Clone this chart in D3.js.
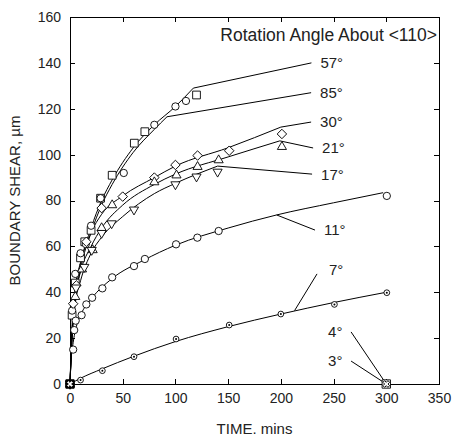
<!DOCTYPE html>
<html lang="en">
<head>
<meta charset="UTF-8">
<title>Boundary shear vs time</title>
<style>
  html, body { margin: 0; padding: 0; background: #fff; }
  svg { display: block; font-family: Arial, "Liberation Sans", sans-serif; }
  .tick-label { font-family: "Liberation Sans Narrow", Arial, "Liberation Sans", sans-serif; font-size: 14px; }
</style>
</head>
<body>
<div id="chart"></div>
<script src="https://d3js.org/d3.v7.min.js"></script>
<script>
// ---- data ----
const xTicks = [0, 50, 100, 150, 200, 250, 300, 350];
const yTicks = [0, 20, 40, 60, 80, 100, 120, 140, 160];

// measured points [time, shear]
const pts57 = [[0,0],[2,30],[5,44],[10,55],[14,62],[20,67],[29,81],[40,91],[61,105],[71,110],[120,126]];
const pts85 = [[0,0],[2,32],[5,48],[10,57],[15,61],[20,69],[29,81],[51,92],[80,113],[100,121],[110,123.4]];
const pts30 = [[0,0],[3,35],[6,43],[15.5,62],[30,76.7],[50,81.7],[80,90],[100,95.5],[121,99.6],[151,101.7],[201,109]];
const pts21 = [[0,0],[5,38],[11.4,50],[21.5,58.4],[30,68],[40,78],[80,88],[101,91],[121,94.7],[141,97.6],[201,103.4]];
const pts17 = [[0,0],[5.7,42],[13.6,51],[20.6,58.4],[30,65.8],[39.5,70],[60.7,76],[100,87],[120,90.4],[140,92.5]];
const pts11 = [[0,0],[3,15],[4,23.5],[5.4,27.6],[11,30],[15.5,34.7],[21,37.6],[30.7,41.7],[40,46.5],[60.7,51.4],[71,54.5],[100.6,60.9],[120.8,63.8],[141,66.7],[300.5,82]];
const pts7  = [[0,0],[10,1.7],[30.7,5.8],[60.7,11.9],[100.6,19.6],[151,25.7],[200,30.5],[250.8,34.7],[300.5,39.8]];
const pts4  = [[0,0],[300,0]];
const pts3  = [[0,0],[300,0]];

// fitted curves [time, shear]
const fit57 = [[0,0],[2,22],[5,38],[10,52],[20,68],[30,80],[40,89],[60,103],[80,113],[100,121],[117,129]];
const fit85 = [[0,0],[2,20],[5,36],[10,50],[20,66],[30,78],[40,87],[60,101],[80,111],[92,116.5]];
const fit30 = [[0,0],[2,26],[5,42],[10,53],[20,66],[30,74],[50,82],[80,90],[100,95],[150,103],[200,112]];
const fit21 = [[0,0],[2,23],[5,38],[10,49],[20,60],[30,68],[50,78],[80,87],[100,91.5],[150,99],[199,106]];
const fit17 = [[0,0],[2,21],[5,35],[10,45],[20,57],[30,64],[50,73],[80,83],[100,87.5],[140,95]];
const fit11 = [[0,0],[1,10],[3,18],[6,25],[10,30],[20,37],[40,46],[70,54],[100,60.5],[150,68],[196,73.7],[250,79],[297,83.4]];
const fit7  = [[0,0],[10,2.5],[30,6.5],[60,12],[100,18.5],[150,25],[200,30.5],[250,35.5],[300,40]];

// labels: text, leader start on curve, leader end
const labelNames = ["57°", "85°", "30°", "21°", "17°", "11°", "7°", "4°", "3°"];
const leaderFrom = [[117,129],[92,116.5],[200,112],[199,106],[140,95],[196,73.7],[213,32],[300,0],[300,0]];
const leaderTo   = [[229,140],[228.7,127],[228.7,114.2],[230.6,102.9],[229.6,91.5],[232.4,67.1],[234.3,48],[266.6,22.7],[266.6,10]];

const title = "Rotation Angle About <110>";
const xTitle = "TIME. mins";
const yTitle = "BOUNDARY SHEAR, µm";

// ---- layout ----
const W = 453, H = 437;
const margin = {top: 17, right: 14, bottom: 53, left: 70};
const width = W - margin.left - margin.right;
const height = H - margin.top - margin.bottom;

const svg = d3.select("#chart").append("svg")
  .attr("width", W).attr("height", H);

const g = svg.append("g").attr("transform", `translate(${margin.left},${margin.top})`);

const x = d3.scaleLinear().domain([0, 350]).range([0, width]);
const y = d3.scaleLinear().domain([0, 160]).range([height, 0]);

// frame + inward ticks on all sides
g.append("rect").attr("width", width).attr("height", height)
  .attr("fill", "none").attr("stroke", "#000").attr("stroke-width", 1)
  .attr("shape-rendering", "crispEdges");

const tl = 5;
function styleAxis(sel) {
  sel.select(".domain").remove();
  sel.selectAll(".tick line").attr("stroke", "#000").attr("shape-rendering", "crispEdges");
  sel.selectAll(".tick text").attr("class", "tick-label").attr("fill", "#222").attr("font-size", null).attr("font-family", null);
}
g.append("g").attr("transform", `translate(0,${height})`)
  .call(d3.axisBottom(x).tickValues(xTicks).tickSizeInner(-tl).tickSizeOuter(0).tickPadding(9))
  .call(styleAxis);
g.append("g")
  .call(d3.axisTop(x).tickValues(xTicks).tickSizeInner(-tl).tickSizeOuter(0).tickFormat(""))
  .call(styleAxis);
g.append("g")
  .call(d3.axisLeft(y).tickValues(yTicks).tickSizeInner(-tl).tickSizeOuter(0).tickPadding(9))
  .call(styleAxis);
g.append("g").attr("transform", `translate(${width},0)`)
  .call(d3.axisRight(y).tickValues(yTicks).tickSizeInner(-tl).tickSizeOuter(0).tickFormat(""))
  .call(styleAxis);

// fitted curves
const line = d3.line().x(d => x(d[0])).y(d => y(d[1])).curve(d3.curveMonotoneX);
[fit57, fit85, fit30, fit21, fit17, fit11, fit7].forEach(f => {
  g.append("path").datum(f).attr("d", line)
    .attr("fill", "none").attr("stroke", "#000").attr("stroke-width", 1);
});

// leader lines + labels
labelNames.forEach((name, i) => {
  const a = leaderFrom[i], b = leaderTo[i];
  g.append("line")
    .attr("x1", x(a[0])).attr("y1", y(a[1]))
    .attr("x2", x(b[0])).attr("y2", y(b[1]))
    .attr("stroke", "#000").attr("stroke-width", 1);
  const left = name === "4°" || name === "3°";
  const up = name === "7°";
  g.append("text")
    .attr("x", x(b[0]) + (left ? -23 : up ? 12 : 9))
    .attr("y", y(b[1]) + (up ? -4 : 0))
    .attr("dy", "0.36em")
    .attr("font-size", 15).attr("fill", "#222")
    .text(name);
});

// markers
const sym = (type, size) => d3.symbol().type(type).size(size);
function drawMarkers(data, type, size, extra) {
  const s = g.append("g");
  s.selectAll("path").data(data).join("path")
    .attr("transform", d => `translate(${x(d[0])},${y(d[1])})` + (extra || ""))
    .attr("d", sym(type, size)())
    .attr("fill", "#fff").attr("stroke", "#000").attr("stroke-width", 0.9);
  return s;
}
drawMarkers(pts57, d3.symbolSquare, 60);
drawMarkers(pts85, d3.symbolCircle, 42);
drawMarkers(pts30, d3.symbolSquare, 45, " rotate(45)");
drawMarkers(pts21, d3.symbolTriangle, 36);
drawMarkers(pts17, d3.symbolTriangle, 36, " rotate(180)");
drawMarkers(pts11, d3.symbolCircle, 42);
drawMarkers(pts7, d3.symbolCircle, 26);
g.append("g").selectAll("circle").data(pts7).join("circle")
  .attr("cx", d => x(d[0])).attr("cy", d => y(d[1])).attr("r", 1).attr("fill", "#000");
// 4° squares: the one at the origin sits under every other series and reads as solid
drawMarkers(pts4, d3.symbolSquare, 70).attr("stroke-width", 1.6)
  .selectAll("path").attr("fill", d => d[0] === 0 ? "#000" : "#fff");
drawMarkers(pts3, d3.symbolCross, 28, " rotate(45)");

// titles
g.append("text").attr("x", width - 2).attr("y", 24)
  .attr("text-anchor", "end").attr("font-size", 17.5).attr("fill", "#222")
  .text(title);

svg.append("text")
  .attr("x", margin.left + width / 2).attr("y", 434)
  .attr("text-anchor", "middle").attr("font-size", 15).attr("fill", "#222")
  .text(xTitle);

svg.append("text")
  .attr("transform", `translate(20,${margin.top + height / 2}) rotate(-90)`)
  .attr("text-anchor", "middle").attr("font-size", 15).attr("fill", "#222")
  .text(yTitle);
</script>
</body>
</html>
